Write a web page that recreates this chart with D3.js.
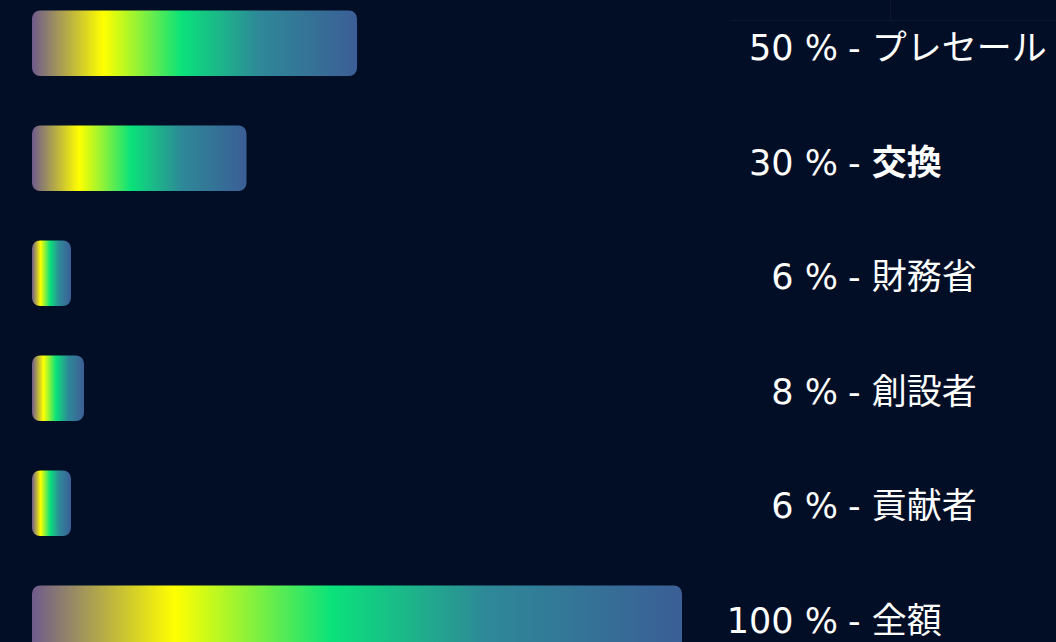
<!DOCTYPE html>
<html>
<head>
<meta charset="utf-8">
<script src="https://cdn.jsdelivr.net/npm/d3@7"></script>
<style>
  html, body { margin: 0; padding: 0; background: #020e26; overflow: hidden; }
  svg { display: block; }
</style>
</head>
<body>
<svg id="chart" width="1056" height="642"></svg>
<script>
// ---- data ----
const categories = ["プレセール", "交換", "財務省", "創設者", "貢献者", "全額"];
const barValues = [50, 33, 6, 8, 6, 100];
const percentLabels = ["50", "30", "6", "8", "6", "100"];
const gradientStops = [
  { offset: "0%",   color: "#6e5a8c" },
  { offset: "22%",  color: "#ffff00" },
  { offset: "46%",  color: "#0ae27a" },
  { offset: "70%",  color: "#2e8898" },
  { offset: "100%", color: "#3b5e96" }
];

const W = 1056, H = 642;
const svg = d3.select("#chart");

svg.append("rect").attr("width", W).attr("height", H).attr("fill", "#020e26");

// faint frame lines top-right
svg.append("line").attr("x1", 730).attr("x2", W).attr("y1", 20.5).attr("y2", 20.5)
  .attr("stroke", "#ffffff").attr("stroke-opacity", 0.045);
svg.append("line").attr("x1", 890.5).attr("x2", 890.5).attr("y1", 0).attr("y2", 20)
  .attr("stroke", "#ffffff").attr("stroke-opacity", 0.045);

const defs = svg.append("defs");
const grad = defs.append("linearGradient").attr("id", "barGrad")
  .attr("x1", "0%").attr("x2", "100%").attr("y1", "0%").attr("y2", "0%");
grad.selectAll("stop").data(gradientStops).join("stop")
  .attr("offset", d => d.offset).attr("stop-color", d => d.color);

const y = d3.scaleBand().domain(categories).range([10.5, 651]).paddingInner(0.43).paddingOuter(0);
const yLabel = d3.scalePoint().domain(categories).range([60, 633]);
const x = d3.scaleLinear().domain([0, 100]).range([32, 682]);

const rows = categories.map((c, i) => ({ cat: c, value: barValues[i], pct: percentLabels[i] }));

svg.selectAll("rect.bar").data(rows).join("rect")
  .attr("class", "bar")
  .attr("x", x(0))
  .attr("y", d => y(d.cat))
  .attr("width", d => x(d.value) - x(0))
  .attr("height", y.bandwidth())
  .attr("rx", 8).attr("ry", 8)
  .attr("fill", "url(#barGrad)");

const font = "'DejaVu Sans', 'Noto Sans CJK JP', sans-serif";
const labelX = 848;

const lab = svg.selectAll("g.lab").data(rows).join("g").attr("class", "lab")
  .attr("transform", d => `translate(0,${yLabel(d.cat)})`);

lab.append("text")
  .attr("x", labelX - 10)
  .attr("text-anchor", "end")
  .attr("font-family", font)
  .attr("font-size", 35)
  .attr("fill", "#ffffff")
  .text(d => `${d.pct} %`);

const rest = lab.append("text")
  .attr("x", labelX)
  .attr("text-anchor", "start")
  .attr("font-family", font)
  .attr("font-size", 35)
  .attr("fill", "#ffffff");
rest.append("tspan").text("- ");
rest.append("tspan")
  .attr("font-weight", d => d.cat === "交換" ? 700 : 400)
  .text(d => d.cat);
</script>
</body>
</html>
